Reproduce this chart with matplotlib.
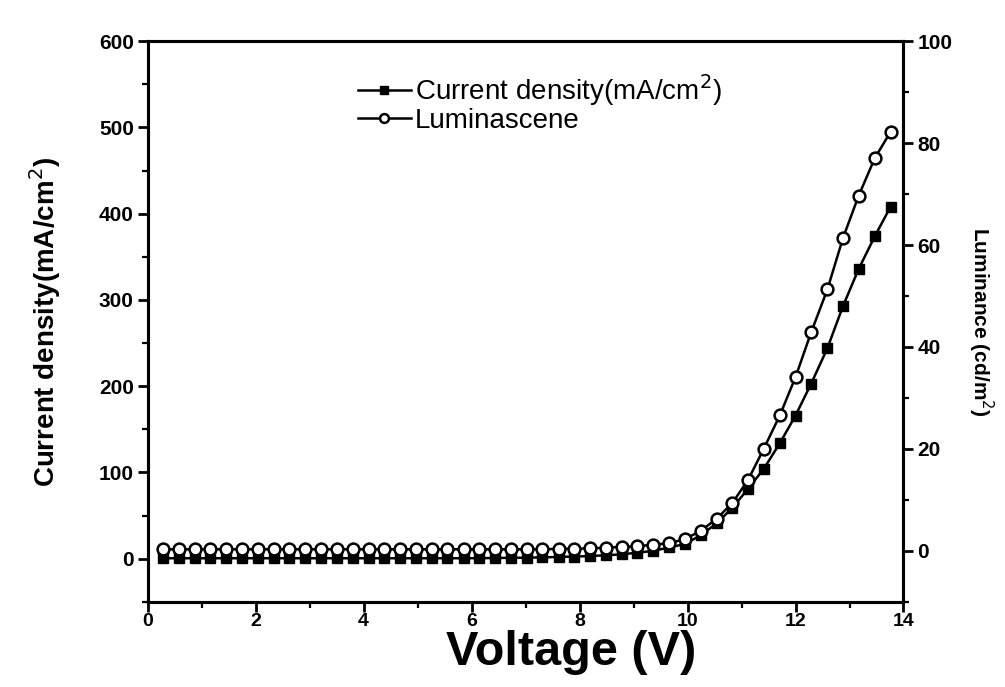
import matplotlib
matplotlib.use('Agg')
from matplotlib import pyplot as plt
from matplotlib.ticker import MultipleLocator

plt.rcParams['font.family'] = ['Liberation Sans', 'DejaVu Sans']

# voltage (V)
voltage = [0.28, 0.57, 0.87, 1.16, 1.45, 1.75, 2.04, 2.33, 2.62, 2.92,
           3.21, 3.50, 3.80, 4.09, 4.38, 4.68, 4.97, 5.26, 5.55, 5.85,
           6.14, 6.43, 6.73, 7.02, 7.31, 7.61, 7.90, 8.19, 8.48, 8.78,
           9.07, 9.36, 9.66, 9.95, 10.24, 10.54, 10.83, 11.12, 11.41, 11.71,
           12.00, 12.29, 12.59, 12.88, 13.17, 13.47, 13.76]

# current density (mA/cm2)
current = [0.5, 0.5, 0.5, 0.5, 0.5, 0.5, 0.5, 0.5, 0.5, 0.5,
           0.5, 0.5, 0.5, 0.5, 0.5, 0.5, 0.5, 0.5, 0.5, 0.5,
           0.6, 0.8, 1.0, 1.2, 1.5, 2, 2.5, 3, 4, 5,
           7, 9, 13, 17, 27, 41, 59, 81, 104, 134,
           166, 203, 244, 293, 336, 374, 408]

# luminance (cd/m2)
luminance = [0.3, 0.3, 0.3, 0.3, 0.3, 0.3, 0.3, 0.3, 0.3, 0.3,
             0.3, 0.3, 0.3, 0.3, 0.3, 0.3, 0.3, 0.3, 0.3, 0.3,
             0.3, 0.3, 0.3, 0.3, 0.3, 0.4, 0.4, 0.5, 0.6, 0.8,
             0.9, 1.2, 1.5, 2.3, 3.9, 6.3, 9.4, 13.9, 20.0, 26.6,
             34.1, 42.9, 51.3, 61.4, 69.7, 77.1, 82.2]

fig = plt.figure(figsize=(10.05, 6.87), dpi=100)
ax = fig.add_axes([0.147, 0.124, 0.752, 0.816])
ax2 = ax.twinx()

l1, = ax.plot(voltage, current, color='k', linestyle='-', linewidth=1.8,
              marker='s', markersize=7.5, markerfacecolor='k', markeredgecolor='k')
l2, = ax2.plot(voltage, luminance, color='k', linestyle='-', linewidth=1.8,
               marker='o', markersize=8.5, markerfacecolor='white',
               markeredgecolor='k', markeredgewidth=1.8)

ax.set_xlim(0, 14)
ax.set_ylim(-50, 600)
ax2.set_ylim(-10, 100)

ax.xaxis.set_major_locator(MultipleLocator(2))
ax.xaxis.set_minor_locator(MultipleLocator(1))
ax.yaxis.set_major_locator(MultipleLocator(100))
ax.yaxis.set_minor_locator(MultipleLocator(50))
ax2.yaxis.set_major_locator(MultipleLocator(20))
ax2.yaxis.set_minor_locator(MultipleLocator(10))

for a in (ax, ax2):
    for s in a.spines.values():
        s.set_linewidth(2.2)
    a.tick_params(which='major', direction='out', length=7, width=2, labelsize=15, pad=3)
    a.tick_params(which='minor', direction='out', length=4, width=1.6)
ax.tick_params(axis='x', which='major', labelsize=14, pad=1)

for lab in ax.get_xticklabels() + ax.get_yticklabels() + ax2.get_yticklabels():
    lab.set_fontweight('bold')

ax.set_xlabel('Voltage (V)', fontsize=35, fontweight='bold')
ax.xaxis.set_label_coords(0.56, -0.05, transform=ax.transAxes)
ax.xaxis.label.set_va('top')
ax.set_ylabel('Current density(mA/cm$^2$)', fontsize=20, fontweight='bold', labelpad=26)
ax2.set_ylabel('Luminance (cd/m$^2$)', fontsize=15, fontweight='bold',
               rotation=270, labelpad=31)

leg = ax.legend([l1, l2], ['Current density(mA/cm$^2$)', 'Luminascene'],
                loc='upper left', bbox_to_anchor=(0.245, 0.99), frameon=False,
                fontsize=20, handlelength=1.9, handletextpad=0.15,
                labelspacing=0.0, markerscale=0.75)

fig.savefig('out.png', dpi=100)
